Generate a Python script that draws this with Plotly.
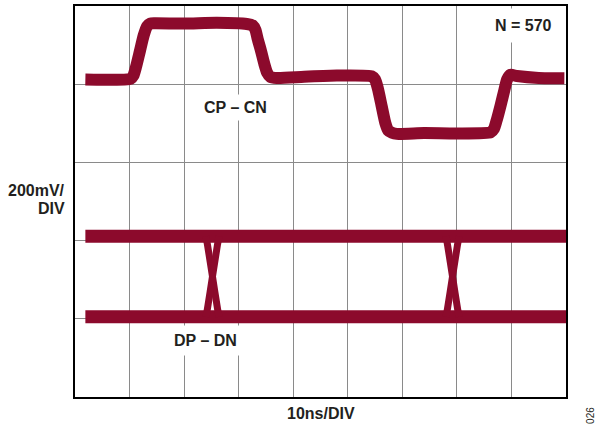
import plotly.graph_objects as go

# Time axis: ns (10 ns/div, 9 divisions); vertical axis: mV (200 mV/div, 5 divisions)
x_range = [0, 90]
y_range = [0, 1000]

# CP - CN differential clock trace (time in ns, level in mV)
cp_t = [1.9, 10.2, 10.7, 11.2, 11.9, 12.6, 13.2, 13.8, 14.6, 20.0, 26.0, 31.5, 32.6, 33.1,
        33.5, 34.1, 34.7, 35.2, 35.8, 37.0, 42.0, 48.0, 54.4, 55.0, 55.5, 56.2, 56.9,
        57.4, 58.1, 59.0, 64.0, 70.0, 76.2, 76.8, 77.3, 78.0, 78.7, 79.2, 79.8, 81.0,
        85.0, 89.7]
cp_v = [812, 814, 822, 845, 885, 925, 948, 955, 956, 955, 957, 954, 950, 938,
        915, 885, 852, 830, 819, 816, 819, 822, 820, 812, 790, 745, 700,
        682, 676, 673, 675, 674, 677, 686, 708, 745, 785, 812, 824, 821,
        816, 815]

# DP - DN data eye: high and low levels (mV) across the sweep
dp_t = [1.9, 90.0]
dp_high = [411, 411]
dp_low = [205, 205]

# Data transitions: crossing strokes between the two levels
cross_t1 = [24.0, 24.3, 25.2, 26.1, 26.4]
cross_t2 = [68.0, 68.3, 69.2, 70.1, 70.4]
fall_v = [411, 388, 308, 228, 205]
rise_v = [205, 228, 308, 388, 411]

trace_color = "#8C0A2C"
ink = "#231F20"
font_family = "Liberation Sans, Arial, Helvetica, sans-serif"

fig = go.Figure()

fig.add_trace(go.Scatter(x=cp_t, y=cp_v, mode="lines",
                         line=dict(color=trace_color, width=12, shape="spline", smoothing=0.6,
                                   simplify=False),
                         hoverinfo="skip"))
for level in (dp_high, dp_low):
    fig.add_trace(go.Scatter(x=dp_t, y=level, mode="lines",
                             line=dict(color=trace_color, width=13), hoverinfo="skip"))
for tt in (cross_t1, cross_t2):
    for vv in (fall_v, rise_v):
        fig.add_trace(go.Scatter(x=tt, y=vv, mode="lines",
                                 line=dict(color=trace_color, width=7, shape="spline",
                                           smoothing=0.6, simplify=False),
                                 hoverinfo="skip"))

axis_common = dict(showgrid=True, gridcolor="#8A8A8A", gridwidth=1, zeroline=False,
                   showticklabels=False, ticks="", showline=True, mirror=True,
                   linecolor="#000000", linewidth=1.5, fixedrange=True)
fig.update_xaxes(range=x_range, dtick=10, tick0=0, **axis_common)
fig.update_yaxes(range=y_range, dtick=200, tick0=0, **axis_common)

label_font = dict(family=font_family, size=16, color=ink, weight="bold")

annotations = [
    dict(text="N = 570", x=82.3, y=949, xref="x", yref="y", bgcolor="white", borderpad=8),
    dict(text="CP – CN", x=29.4, y=741, xref="x", yref="y", bgcolor="white", borderpad=4),
    dict(text="DP – DN", x=24.0, y=145, xref="x", yref="y", bgcolor="white", borderpad=6),
    dict(text="200mV/", x=-0.016, y=0.527, xref="paper", yref="paper", xanchor="right"),
    dict(text="DIV", x=-0.016, y=0.483, xref="paper", yref="paper", xanchor="right"),
    dict(text="10ns/DIV", x=0.5, y=-0.042, xref="paper", yref="paper"),
]
for a in annotations:
    a.setdefault("xanchor", "center")
    a.update(showarrow=False, yanchor="middle", font=label_font)
    fig.add_annotation(**a)

fig.add_annotation(text="026", x=1.05, y=-0.047, xref="paper", yref="paper",
                   showarrow=False, textangle=-90, xanchor="center", yanchor="middle",
                   font=dict(family=font_family, size=10, color=ink))

fig.update_layout(width=595, height=429, margin=dict(l=75, r=29, t=4, b=32),
                  paper_bgcolor="white", plot_bgcolor="white", showlegend=False)

fig.write_html("out.html")
